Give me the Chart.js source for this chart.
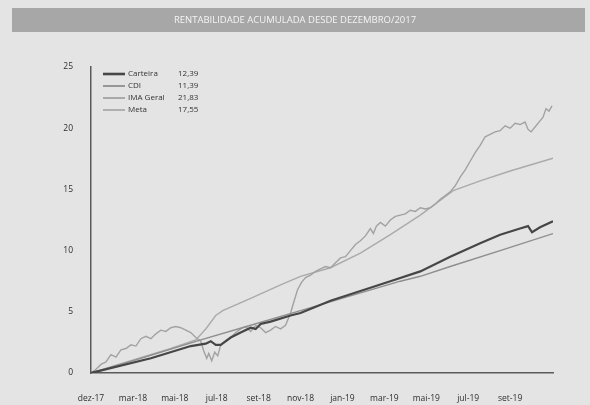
<!DOCTYPE html>
<html>
<head>
<meta charset="utf-8">
<script src="https://cdn.jsdelivr.net/npm/chart.js@4.4.1/dist/chart.umd.min.js"></script>
<style>
  html, body { margin: 0; padding: 0; background: #e4e4e4; }
  #grafico_rentabilidade { display: block; }
</style>
</head>
<body>
<canvas id="grafico_rentabilidade" width="590" height="405"></canvas>
<script>
var titulo = 'RENTABILIDADE ACUMULADA DESDE DEZEMBRO/2017';

// rótulos do eixo x, um a cada 42 dias úteis
var rotulosX = ['dez-17', 'mar-18', 'mai-18', 'jul-18', 'set-18', 'nov-18', 'jan-19', 'mar-19', 'mai-19', 'jul-19', 'set-19'];
var intervaloRotulo = 42;
var totalDias = 463;
var rotulosY = [0, 5, 10, 15, 20, 25];

var nomes = ['Carteira', 'CDI', 'IMA Geral', 'Meta'];

// rentabilidade acumulada (%) por dia útil desde 29/12/2017
var diasCarteira = [0, 60, 100, 115, 120, 125, 130, 140, 150, 160, 165, 170, 180, 200, 210, 240, 270, 300, 330, 360, 390, 410, 430, 438, 442, 450, 463];
var carteira = [0, 1.2, 2.2, 2.4, 2.6, 2.3, 2.3, 2.9, 3.3, 3.7, 3.6, 4.0, 4.2, 4.7, 4.9, 5.9, 6.7, 7.5, 8.3, 9.5, 10.6, 11.3, 11.8, 12.0, 11.5, 11.9, 12.39];
var diasCDI = [0, 50, 110, 160, 210, 260, 310, 330, 360, 410, 463];
var cdi = [0, 1.2, 2.7, 3.9, 5.1, 6.3, 7.5, 7.9, 8.7, 10.0, 11.39];
var diasIma = [0, 5, 10, 15, 20, 25, 30, 35, 40, 45, 50, 55, 60, 65, 70, 75, 80, 85, 90, 95, 100, 105, 110, 113, 116, 118, 121, 124, 127, 130, 135, 140, 145, 150, 155, 160, 165, 170, 175, 180, 185, 190, 195, 200, 204, 207, 211, 215, 220, 225, 230, 235, 240, 245, 250, 255, 260, 265, 270, 275, 280, 283, 286, 290, 295, 300, 305, 310, 315, 320, 325, 330, 335, 340, 345, 350, 355, 360, 365, 370, 375, 380, 385, 390, 395, 400, 405, 410, 415, 420, 425, 430, 435, 438, 441, 445, 450, 453, 456, 459, 462];
var ima = [0, 0.3, 0.7, 0.9, 1.5, 1.3, 1.9, 2.0, 2.3, 2.2, 2.8, 3.0, 2.8, 3.2, 3.5, 3.4, 3.7, 3.8, 3.7, 3.5, 3.3, 2.9, 2.6, 1.8, 1.2, 1.6, 1.0, 1.7, 1.4, 2.3, 2.6, 2.9, 3.3, 3.6, 3.8, 3.4, 3.9, 3.7, 3.3, 3.5, 3.8, 3.6, 3.9, 4.9, 6.0, 6.8, 7.4, 7.8, 8.0, 8.3, 8.5, 8.7, 8.6, 9.0, 9.4, 9.5, 10.0, 10.5, 10.8, 11.2, 11.8, 11.4, 12.0, 12.3, 12.0, 12.5, 12.8, 12.9, 13.0, 13.3, 13.2, 13.5, 13.4, 13.5, 13.8, 14.2, 14.5, 14.8, 15.3, 16.0, 16.6, 17.3, 18.0, 18.6, 19.3, 19.5, 19.7, 19.8, 20.2, 20.0, 20.4, 20.3, 20.5, 19.9, 19.7, 20.1, 20.6, 20.9, 21.6, 21.4, 21.83];
var diasMeta = [0, 40, 80, 105, 115, 125, 132, 160, 190, 210, 240, 270, 300, 330, 363, 390, 420, 463];
var meta = [0, 1.0, 2.0, 2.7, 3.6, 4.7, 5.1, 6.1, 7.2, 7.9, 8.6, 9.8, 11.3, 12.9, 14.9, 15.7, 16.5, 17.55];

var cores = ['#464646', '#8e8e8e', '#a2a2a2', '#aaaaaa'];
var espessuras = [2.2, 1.4, 1.4, 1.4];

function pares(dias, valores) {
    var lista = [];
    for (var i = 0; i < valores.length; i++) {
        lista.push({ x: dias[i], y: valores[i] });
    }
    return lista;
}

// fundo cinza e a faixa do título
var fundo = {
    id: 'fundo',
    beforeDraw: function (chart) {
        var ctx = chart.ctx;
        ctx.save();
        ctx.fillStyle = '#e4e4e4';
        ctx.fillRect(0, 0, chart.width, chart.height);
        ctx.fillStyle = '#a7a7a7';
        ctx.fillRect(12, 8, 573, 24);
        ctx.fillStyle = '#f4f4f4';
        ctx.font = '9.5px "Open Sans"';
        ctx.textAlign = 'center';
        ctx.textBaseline = 'middle';
        ctx.fillText(titulo, 295, 20);
        ctx.restore();
    }
};

// legenda dentro da área do gráfico, com o valor final de cada série
var legendaValores = {
    id: 'legendaValores',
    afterDraw: function (chart) {
        var ctx = chart.ctx;
        var area = chart.chartArea;
        ctx.save();
        ctx.font = '8px "Open Sans"';
        ctx.textBaseline = 'middle';
        chart.data.datasets.forEach(function (ds, i) {
            var y = area.top + 7 + i * 12;
            var x0 = area.left + 12;
            ctx.strokeStyle = ds.borderColor;
            ctx.lineWidth = ds.borderWidth + 0.4;
            ctx.beginPath();
            ctx.moveTo(x0, y);
            ctx.lineTo(x0 + 22, y);
            ctx.stroke();
            ctx.fillStyle = '#333';
            ctx.textAlign = 'left';
            ctx.fillText(ds.label, x0 + 25, y);
            var ultimo = ds.data[ds.data.length - 1].y;
            ctx.fillText(ultimo.toFixed(2).replace('.', ','), x0 + 75, y);
        });
        ctx.restore();
    }
};

var series = [pares(diasCarteira, carteira), pares(diasCDI, cdi), pares(diasIma, ima), pares(diasMeta, meta)];
var datasets = [];
for (var i = 0; i < nomes.length; i++) {
    datasets.push({
        label: nomes[i],
        data: series[i],
        borderColor: cores[i],
        borderWidth: espessuras[i],
        pointRadius: 0,
        tension: 0,
        fill: false
    });
}

var ctx = document.getElementById('grafico_rentabilidade');
var grafico = new Chart(ctx, {
    type: 'line',
    data: { datasets: datasets },
    options: {
        responsive: false,
        animation: false,
        layout: { padding: { left: 0, right: 37, top: 67, bottom: 0 } },
        plugins: {
            legend: { display: false },
            title: { display: false },
            tooltip: { enabled: false }
        },
        scales: {
            x: {
                type: 'linear',
                min: 0,
                max: totalDias,
                grid: { display: false },
                border: { display: true, color: '#5a5a5a', width: 1.5 },
                afterBuildTicks: function (scale) {
                    scale.ticks = rotulosX.map(function (r, i) { return { value: i * intervaloRotulo }; });
                },
                afterFit: function (scale) { scale.height = 32; },
                ticks: {
                    padding: 12,
                    maxRotation: 0,
                    autoSkip: false,
                    color: '#2e2e2e',
                    font: { family: 'Open Sans', size: 8.5 },
                    callback: function (v) { return rotulosX[Math.round(v / intervaloRotulo)]; }
                }
            },
            y: {
                min: 0,
                max: 25,
                grid: { display: false },
                border: { display: true, color: '#5a5a5a', width: 1.5 },
                afterBuildTicks: function (scale) {
                    scale.ticks = rotulosY.map(function (v) { return { value: v }; });
                },
                afterFit: function (scale) { scale.width = 91; },
                ticks: {
                    padding: 10,
                    color: '#2e2e2e',
                    font: { family: 'Open Sans', size: 8.5 }
                }
            }
        }
    },
    plugins: [fundo, legendaValores]
});
</script>
</body>
</html>
